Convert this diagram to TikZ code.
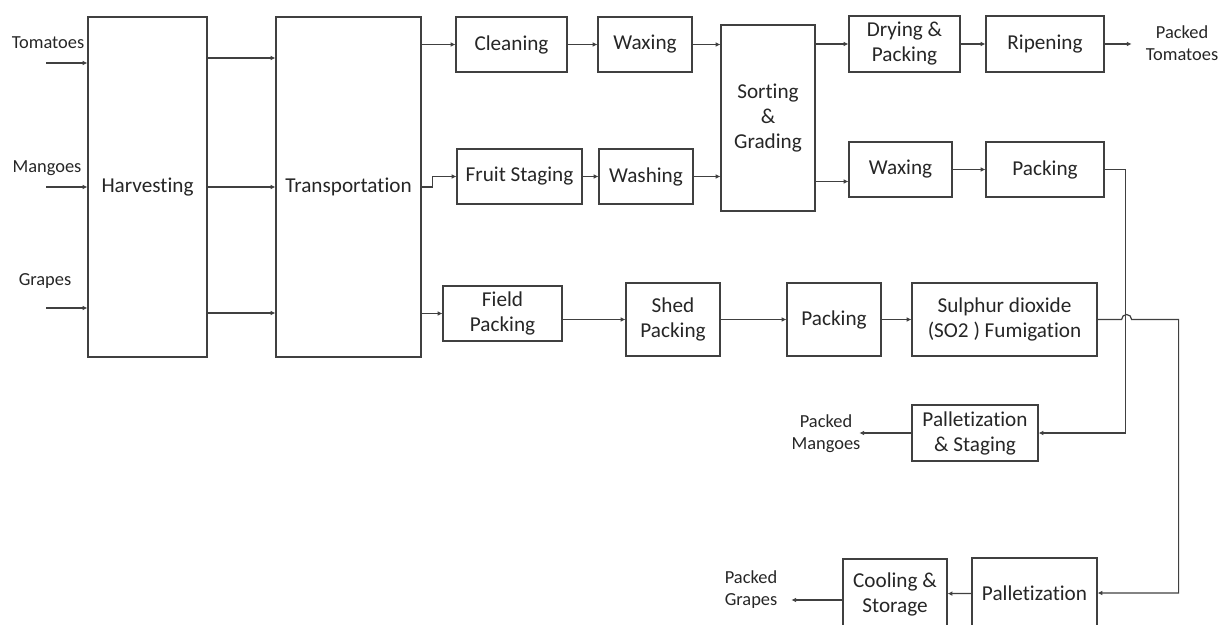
\documentclass[tikz,border=0pt]{standalone}
\usepackage{fontspec}
\setmainfont{Carlito}[Ligatures=CommonOff]
\usepackage{tikz}
\usetikzlibrary{arrows.meta}

\begin{document}
\begin{tikzpicture}[x=0.5pt,y=-0.5pt,line width=0.6pt,
	every node/.style={inner sep=0pt,align=center,text=black!85},
	procbox/.style={draw=black!75,font=\fontsize{10.6}{12.5}\selectfont},
	endlabel/.style={font=\fontsize{9.2}{11}\selectfont},
	flow/.style={draw=black!75,-{Latex[length=2.4pt,width=2.4pt]}}]
    \useasboundingbox (0,0) rectangle (1218,625);
    \clip (0,0) rectangle (1218,625);
    % process boxes
    \node[procbox,minimum width=59.5pt,minimum height=170pt] (harv) at (147.5,187) {Harvesting};
    \node[procbox,minimum width=72.5pt,minimum height=170pt] (trans) at (348.5,187) {Transportation};
    \node[procbox,minimum width=55.5pt,minimum height=27.5pt] (clean) at (511.5,44.5) {Cleaning};
    \node[procbox,minimum width=47pt,minimum height=27.5pt] (waxA) at (645,44.5) {Waxing};
    \node[procbox,minimum width=62.5pt,minimum height=27.5pt] (stage) at (519.5,176.5) {Fruit Staging};
    \node[procbox,minimum width=47pt,minimum height=27.5pt] (wash) at (646,176.5) {Washing};
    \node[procbox,minimum width=47pt,minimum height=93pt] (sort) at (768,118) {Sorting\\\&\\Grading};
    \node[procbox,minimum width=55.5pt,minimum height=28pt] (dry) at (904.5,44) {Drying \&\\Packing};
    \node[procbox,minimum width=59pt,minimum height=28pt] (ripen) at (1045,44) {Ripening};
    \node[procbox,minimum width=51.5pt,minimum height=27.5pt] (waxB) at (900.5,169.5) {Waxing};
    \node[procbox,minimum width=59pt,minimum height=27.5pt] (packB) at (1045,169.5) {Packing};
    \node[procbox,minimum width=59.5pt,minimum height=27.5pt] (field) at (502.5,313.5) {Field\\Packing};
    \node[procbox,minimum width=47pt,minimum height=36.5pt] (shed) at (673,319.5) {Shed\\Packing};
    \node[procbox,minimum width=47pt,minimum height=36.5pt] (packC) at (834,319.5) {Packing};
    \node[procbox,minimum width=92.5pt,minimum height=36.5pt] (sulph) at (1004.5,319.5) {Sulphur dioxide\\(SO2 ) Fumigation};
    \node[procbox,minimum width=63pt,minimum height=28pt] (pallS) at (975,433) {Palletization\\\& Staging};
    \node[procbox,minimum width=62.5pt,minimum height=35pt] (pallG) at (1034.5,593) {Palletization};
    \node[procbox,minimum width=52pt,minimum height=35pt] (cool) at (895,594) {Cooling \&\\Storage};
    % inputs and outputs
    \node[endlabel] (tom) at (48,43) {Tomatoes};
    \node[endlabel] (man) at (47,168) {Mangoes};
    \node[endlabel] (gra) at (45,281) {Grapes};
    \node[endlabel] (outT) at (1182,43) {Packed\\Tomatoes};
    \node[endlabel] (outM) at (826,434) {Packed\\Mangoes};
    \node[endlabel] (outG) at (751,590) {Packed\\Grapes};
    \coordinate (inT) at (46,63);
    \coordinate (inM) at (46,187);
    \coordinate (inG) at (46,308);
    \coordinate (rowT) at (0,58);
    \coordinate (rowG) at (0,313);
    \coordinate (wbIn) at ([yshift=-6pt]waxB.west);
    \coordinate (cgOut) at ([yshift=-3pt]cool.west);
    % connectors
    \draw[flow] (inT) -- (inT -| harv.west);
    \draw[flow] (inM) -- (inM -| harv.west);
    \draw[flow] (inG) -- (inG -| harv.west);
    \draw[flow] (harv.east |- rowT) -- (trans.west |- rowT);
    \draw[flow] (harv.east) -- (trans.west);
    \draw[flow] (harv.east |- rowG) -- (trans.west |- rowG);
    \draw[flow] (trans.east |- clean.west) -- (clean.west);
    \draw[flow] (trans.east) -- ++(5.5pt,0) |- (stage.west);
    \draw[flow] (trans.east |- field.west) -- (field.west);
    \draw[flow] (clean) -- (waxA);
    \draw[flow] (waxA.east) -- (waxA.east -| sort.west);
    \draw[flow] (stage) -- (wash);
    \draw[flow] (wash.east) -- (wash.east -| sort.west);
    \draw[flow] (sort.east |- dry.west) -- (dry.west);
    \draw[flow] (wbIn -| sort.east) -- (wbIn);
    \draw[flow] (dry) -- (ripen);
    \draw[flow] (ripen.east) -- ++(13.5pt,0);
    \draw[flow] (waxB) -- (packB);
    \draw[flow] (packB.east) -- ++(10.5pt,0) |- (pallS.east);
    \draw[flow] (pallS.west) -- ++(-26pt,0);
    \draw[flow] (shed.west -| field.east) -- (shed.west);
    \draw[flow] (shed) -- (packC);
    \draw[flow] (packC) -- (sulph);
    \draw[flow] (sulph.east) -- ++(12pt,0) arc[start angle=180,end angle=0,radius=2.5pt] -- ++(23.5pt,0) |- (pallG.east);
    \draw[flow] (pallG) -- (cool);
    \draw[flow] (cgOut) -- ++(-25.5pt,0);
\end{tikzpicture}
\end{document}
